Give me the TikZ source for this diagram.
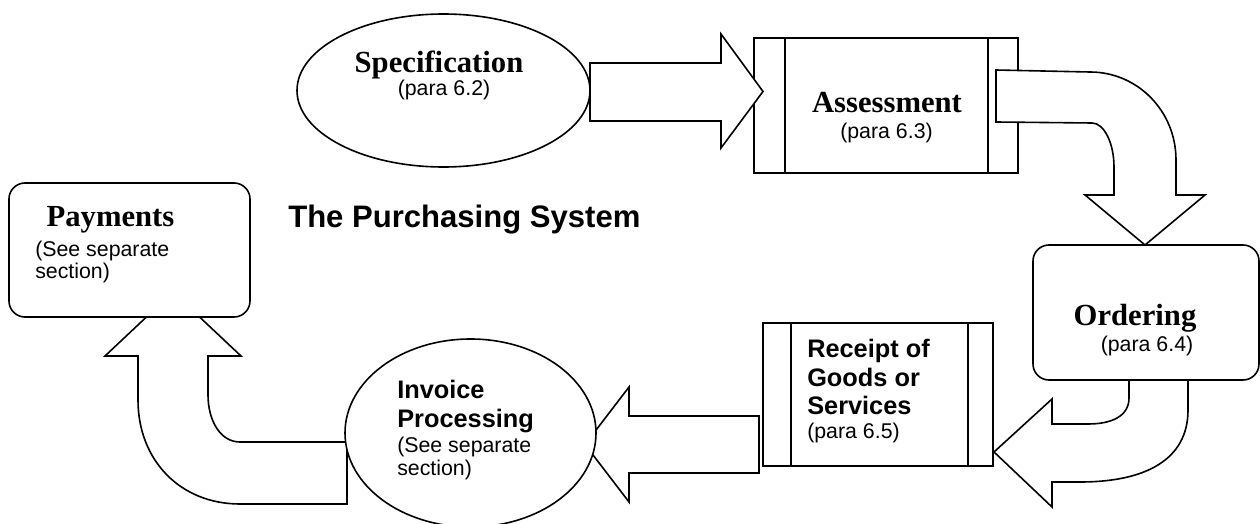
\documentclass[tikz,border=0pt]{standalone}
\usepackage{fontspec}
\setmainfont{Liberation Serif}
\newfontfamily\sansfont{Liberation Sans}
\usetikzlibrary{shapes.geometric,calc}

\begin{document}
\begin{tikzpicture}[x=0.75pt,y=-0.75pt,
  outline/.style={draw=black,line width=1.2pt,line join=miter,fill=white},
  blockarrow/.style={outline},
  procbox/.style={outline,rectangle,inner sep=0pt},
  roundbox/.style={outline,rectangle,rounded corners=12pt,inner sep=0pt},
  oval/.style={outline,ellipse,inner sep=0pt},
  strip/.style={draw=black,line width=1.2pt},
  heading/.style={inner sep=0pt,font=\fontsize{23}{27}\selectfont\bfseries},
  note/.style={inner sep=0pt,font=\sansfont\fontsize{16}{19}\selectfont},
  sanshead/.style={inner sep=0pt,font=\sansfont\bfseries\fontsize{19}{22}\selectfont},
  titletext/.style={inner sep=0pt,font=\sansfont\bfseries\fontsize{23.3}{27}\selectfont},
]
\useasboundingbox (0,0) rectangle (1260,524);

% process boxes with side strips
\node[procbox,minimum width=264*0.75pt,minimum height=135*0.75pt] (assess) at (886,105.5) {};
\draw[strip] ($(assess.north west)+(32,0)$) -- ($(assess.south west)+(32,0)$);
\draw[strip] ($(assess.north east)+(-31,0)$) -- ($(assess.south east)+(-31,0)$);

\node[procbox,minimum width=230*0.75pt,minimum height=143*0.75pt] (receipt) at (878,394.5) {};
\draw[strip] ($(receipt.north west)+(29,0)$) -- ($(receipt.south west)+(29,0)$);
\draw[strip] ($(receipt.north east)+(-26,0)$) -- ($(receipt.south east)+(-26,0)$);

\node[roundbox,minimum width=226*0.75pt,minimum height=135*0.75pt] (ordering) at (1146,312.5) {};

% block arrows between the stages
\draw[blockarrow] (590,63) -- (721,63) -- (721,34) -- (763,91.5) -- (721,148)
  -- (721,121) -- (590,121) -- cycle;

\draw[blockarrow] (996,70) -- (1090,72) .. controls (1137.5,72) and (1176,111) .. (1176,160)
  -- (1176,195) -- (1205,195) -- (1145,245) -- (1085,195) -- (1114,195) -- (1114,167)
  .. controls (1114,143) and (1104,123) .. (1092,123) -- (996,122) -- cycle;

\draw[blockarrow] (1129,380) -- (1129,398) .. controls (1129,416) and (1112,424) .. (1088,424)
  -- (1052,424) -- (1052,399) -- (994,452) -- (1052,507) -- (1052,482) -- (1080,482)
  .. controls (1145,482) and (1188,460) .. (1188,410) -- (1188,380) -- cycle;

\draw[blockarrow] (759,416) -- (629,416) -- (629,387) -- (585,444.5) -- (629,502)
  -- (629,473) -- (759,473) -- cycle;

\draw[blockarrow] (347,442) -- (240,442) .. controls (220,442) and (208,420) .. (208,395)
  -- (208,356) -- (241,356) -- (173,292) -- (105,356) -- (138,356) -- (138,400)
  .. controls (138,460) and (180,504) .. (240,504) -- (347,504) -- cycle;

% shapes drawn over the arrow ends
\node[oval,minimum width=293*0.75pt,minimum height=153*0.75pt] (spec) at (443.5,90.5) {};
\node[oval,minimum width=251*0.75pt,minimum height=188*0.75pt] (invoice) at (470.5,433) {};
\node[roundbox,minimum width=241*0.75pt,minimum height=134*0.75pt] (payments) at (129.5,250) {};

% labels
\node[heading,anchor=base] (specname) at (439,73) {Specification};
\node[note,anchor=base] (specref) at (444,96) {(para 6.2)};

\node[heading,anchor=base] (assessname) at (887,113) {Assessment};
\node[note,anchor=base] (assessref) at (886.5,139) {(para 6.3)};

\node[heading,anchor=base] (orderingname) at (1135,325) {Ordering};
\node[note,anchor=base] (orderingref) at (1147,351) {(para 6.4)};

\node[sanshead,anchor=base west] (receipt1) at (807,357) {Receipt of};
\node[sanshead,anchor=base west] (receipt2) at (807,386) {Goods or};
\node[sanshead,anchor=base west] (receipt3) at (807,414) {Services};
\node[note,anchor=base west] (receiptref) at (807,438) {(para 6.5)};

\node[sanshead,anchor=base west] (invoice1) at (397,398) {Invoice};
\node[sanshead,anchor=base west] (invoice2) at (397,427) {Processing};
\node[note,anchor=base west] (invoice3) at (397,452) {(See separate};
\node[note,anchor=base west] (invoice4) at (397,475) {section)};

\node[heading,anchor=base] (paymentsname) at (110.5,227) {Payments};
\node[note,anchor=base west] (payments1) at (35,256) {(See separate};
\node[note,anchor=base west] (payments2) at (35,278) {section)};

\node[titletext,anchor=base west] (title) at (288,228) {The Purchasing System};
\end{tikzpicture}
\end{document}
